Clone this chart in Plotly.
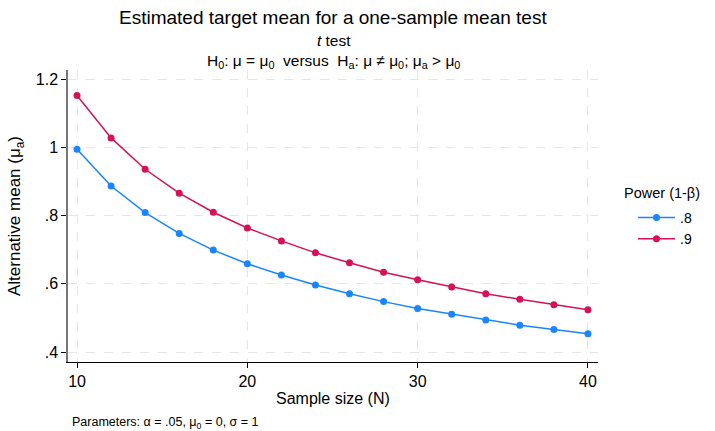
import plotly.graph_objects as go

sample_size = [10, 12, 14, 16, 18, 20, 22, 24, 26, 28, 30, 32, 34, 36, 38, 40]
mean_p80 = [0.995, 0.887, 0.809, 0.748, 0.699, 0.659, 0.626, 0.597, 0.571, 0.548,
            0.528, 0.511, 0.494, 0.479, 0.466, 0.454]
mean_p90 = [1.152, 1.028, 0.936, 0.866, 0.810, 0.764, 0.726, 0.691, 0.662, 0.634,
            0.612, 0.591, 0.571, 0.555, 0.539, 0.524]
series_names = [".8", ".9"]
colors = ["#1A85FF", "#D41159"]
y_ticks = [0.4, 0.6, 0.8, 1.0, 1.2]
y_tick_labels = [".4", ".6", ".8", "1", "1.2"]
x_ticks = [10, 20, 30, 40]

FONT = "Liberation Sans, Arial, sans-serif"
W, H = 715, 431
ML, MR, MT, MB = 68, 117, 70, 69
PW, PH = W - ML - MR, H - MT - MB


def px(x_pix):
    return (x_pix - ML) / PW


def py(y_pix):
    return (H - MB - y_pix) / PH


fig = go.Figure()
for name, vals, col in zip(series_names, [mean_p80, mean_p90], colors):
    fig.add_trace(go.Scatter(
        x=sample_size, y=vals, mode="lines+markers", name=name,
        line=dict(color=col, width=1.5),
        marker=dict(color=col, size=7),
    ))

subtitle = ("<i>t</i> test<br>"
            "H<sub>0</sub>: μ = μ<sub>0</sub>  versus  H<sub>a</sub>: μ ≠ μ<sub>0</sub>; "
            "μ<sub>a</sub> &gt; μ<sub>0</sub>")

fig.update_layout(
    width=W, height=H,
    margin=dict(l=ML, r=MR, t=MT, b=MB, autoexpand=False),
    paper_bgcolor="white", plot_bgcolor="white",
    font=dict(family=FONT, color="#000000", size=16),
    showlegend=True,
    legend=dict(
        x=px(633), xanchor="left", y=py(202), yanchor="top",
        font=dict(size=14), tracegroupgap=0, itemwidth=37,
        bgcolor="rgba(0,0,0,0)", borderwidth=0,
    ),
    xaxis=dict(
        range=[9.47, 40.59], tickvals=x_ticks, ticks="outside", ticklen=5,
        tickcolor="#000000", showline=True, linecolor="#000000", linewidth=1.2,
        showgrid=True, gridcolor="#e6e6e6", griddash="dash", gridwidth=1,
        zeroline=False, tickfont=dict(size=16),
    ),
    yaxis=dict(
        range=[0.371, 1.227], tickvals=y_ticks, ticktext=y_tick_labels,
        ticks="outside", ticklen=5, tickcolor="#000000",
        showline=True, linecolor="#777777", linewidth=1.5,
        showgrid=True, gridcolor="#e6e6e6", griddash="dash", gridwidth=1,
        zeroline=False, tickfont=dict(size=16),
    ),
    annotations=[
        dict(text="Estimated target mean for a one-sample mean test",
             x=0.5, y=py(17), xref="paper", yref="paper", showarrow=False,
             yanchor="middle", font=dict(size=19)),
        dict(text=subtitle, x=0.5, y=py(51.5), xref="paper", yref="paper",
             showarrow=False, yanchor="middle", align="center",
             font=dict(size=15.5)),
        dict(text="Sample size (N)", x=0.5, y=py(398), xref="paper", yref="paper",
             showarrow=False, yanchor="middle", font=dict(size=16)),
        dict(text="Alternative mean (μ<sub>a</sub>)", x=px(16), y=py(216),
             xref="paper", yref="paper", showarrow=False, textangle=-90,
             xanchor="center", yanchor="middle", font=dict(size=17)),
        dict(text="Power (1-β)", x=px(622), y=py(193), xref="paper", yref="paper",
             showarrow=False, xanchor="left", yanchor="middle", font=dict(size=14.5)),
        dict(text="Parameters: α = .05, μ<sub>0</sub> = 0, σ = 1",
             x=px(70), y=py(423), xref="paper", yref="paper", xanchor="left",
             yanchor="middle", showarrow=False, font=dict(size=12.5)),
    ],
)

fig.write_html("out.html", config={"displayModeBar": False},
               post_script="document.body.style.margin='0';")
